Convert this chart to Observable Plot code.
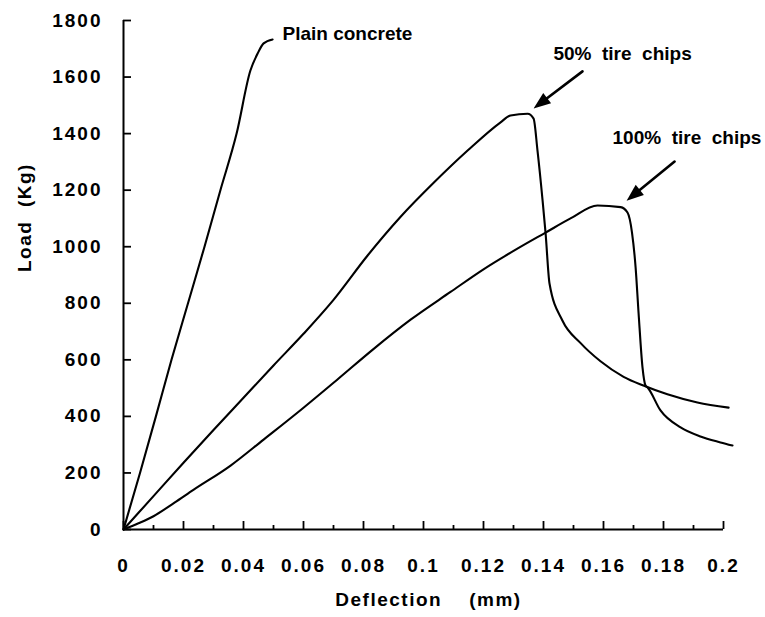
<!DOCTYPE html>
<html>
<head>
<meta charset="utf-8">
<script src="https://cdn.jsdelivr.net/npm/d3@7"></script>
<script src="https://cdn.jsdelivr.net/npm/@observablehq/plot@0.6"></script>
<style>
  html, body { margin: 0; padding: 0; background: #fff; }
  #chart { width: 765px; height: 617px; }
</style>
</head>
<body>
<div id="chart"></div>
<script>
// ---- Data (deflection in mm, load in Kg) ----
const plainX = [0, 0.0055, 0.0108, 0.0160, 0.0215, 0.0270, 0.0323, 0.0377, 0.0423, 0.0447, 0.0467, 0.0497];
const plainY = [0, 200, 400, 600, 800, 1000, 1200, 1400, 1623, 1683, 1719, 1733];

const chips50X = [0, 0.01, 0.02, 0.03, 0.04, 0.05, 0.06, 0.07, 0.0813, 0.0923, 0.1033, 0.1147, 0.1257, 0.129, 0.1347, 0.1367, 0.138, 0.1397, 0.1407, 0.142, 0.1463, 0.1523, 0.159, 0.1667, 0.1733, 0.1813, 0.1913, 0.2017];
const chips50Y = [0, 118, 236, 352, 466, 580, 692, 812, 968, 1105, 1225, 1340, 1440, 1464, 1470, 1453, 1340, 1163, 1047, 870, 739, 660, 595, 540, 509, 478, 449, 431];

const chips100X = [0, 0.005, 0.01, 0.017, 0.0233, 0.0357, 0.0467, 0.0597, 0.0717, 0.0833, 0.0957, 0.109, 0.12, 0.1313, 0.1407, 0.149, 0.158, 0.1657, 0.168, 0.1695, 0.1707, 0.1717, 0.173, 0.174, 0.1747, 0.179, 0.1857, 0.1923, 0.199, 0.203];
const chips100Y = [0, 22, 47, 95, 140, 226, 318, 428, 534, 638, 742, 840, 920, 993, 1050, 1100, 1146, 1140, 1121, 1050, 927, 764, 573, 509, 502, 421, 361, 329, 308, 297];

// ---- Axes ----
const xTickValues = [0, 0.02, 0.04, 0.06, 0.08, 0.1, 0.12, 0.14, 0.16, 0.18, 0.2];
const xTickLabels = ["0", "0.02", "0.04", "0.06", "0.08", "0.1", "0.12", "0.14", "0.16", "0.18", "0.2"];
const xMinorTicks = [0.01, 0.03, 0.05, 0.07, 0.09, 0.11, 0.13, 0.15, 0.17, 0.19];
const yTickValues = [0, 200, 400, 600, 800, 1000, 1200, 1400, 1600, 1800];
const yTickLabels = ["0", "200", "400", "600", "800", "1000", "1200", "1400", "1600", "1800"];
const xTitle = "Deflection    (mm)";
const yTitle = "Load  (Kg)";

// ---- Annotations ----
const annotLabels = ["Plain concrete", "50%  tire  chips", "100%  tire  chips"];
const annotX = [0.053, 0.1433, 0.163];
const annotY = [1754, 1683, 1386];
const arrowX1 = [0.153, 0.1837];
const arrowY1 = [1620, 1301];
const arrowX2 = [0.1367, 0.1677];
const arrowY2 = [1489, 1163];

const series = [
  {xs: plainX, ys: plainY},
  {xs: chips50X, ys: chips50Y},
  {xs: chips100X, ys: chips100Y}
];

const headSymbol = {
  draw(ctx) {
    ctx.moveTo(0, 0);
    ctx.lineTo(-6.5, 17);
    ctx.lineTo(6.5, 17);
    ctx.closePath();
  }
};

function baseMarks() {
  const marks = [];
  marks.push(Plot.ruleX([0], {stroke: "black", strokeWidth: 2}));
  marks.push(Plot.ruleY([0], {stroke: "black", strokeWidth: 2}));
  marks.push(Plot.axisY(yTickValues, {anchor: "left", tickSize: -8, tickPadding: 29, strokeWidth: 1.8, label: null,
    tickFormat: d => yTickLabels[yTickValues.indexOf(d)]}));
  marks.push(Plot.axisX(xTickValues, {anchor: "bottom", tickSize: -8, tickPadding: 37, strokeWidth: 1.8, label: null,
    tickFormat: d => xTickLabels[xTickValues.indexOf(d)]}));
  marks.push(Plot.axisX(xMinorTicks, {anchor: "bottom", tickSize: -4, tickPadding: 0, strokeWidth: 1.8, label: null,
    tickFormat: () => ""}));
  marks.push(Plot.text([xTitle], {frameAnchor: "bottom", dx: 5, dy: 76, text: d => d, fontSize: 19, fontWeight: "bold"}));
  marks.push(Plot.text([yTitle], {frameAnchor: "left", dx: -99, dy: -3, rotate: -90, text: d => d, fontSize: 19, fontWeight: "bold"}));
  for (const s of series) {
    marks.push(Plot.line(d3.range(s.xs.length), {x: i => s.xs[i], y: i => s.ys[i], stroke: "black", strokeWidth: 2.1,
      strokeLinejoin: "round", curve: "monotone-x"}));
  }
  marks.push(Plot.text(d3.range(annotLabels.length), {x: i => annotX[i], y: i => annotY[i], text: i => annotLabels[i],
    textAnchor: "start", fontSize: 19, fontWeight: "bold"}));
  marks.push(Plot.arrow(d3.range(arrowX1.length), {x1: i => arrowX1[i], y1: i => arrowY1[i], x2: i => arrowX2[i], y2: i => arrowY2[i],
    headLength: 0, insetEnd: 9, stroke: "black", strokeWidth: 2.6}));
  return marks;
}

function build(extra) {
  return Plot.plot({
    width: 765,
    height: 617,
    marginLeft: 123,
    marginRight: 42,
    marginTop: 20,
    marginBottom: 88,
    x: {domain: [0, 0.2]},
    y: {domain: [0, 1800]},
    style: {fontFamily: "'Liberation Sans', Arial, sans-serif", fontSize: "19px", fontWeight: "bold", letterSpacing: "2px", color: "black", background: "white"},
    marks: [...baseMarks(), ...extra]
  });
}

const probe = build([]);
const sx = probe.scale("x"), sy = probe.scale("y");
const headAngles = arrowX1.map((_, i) => {
  const ux = sx.apply(arrowX2[i]) - sx.apply(arrowX1[i]);
  const uy = sy.apply(arrowY2[i]) - sy.apply(arrowY1[i]);
  return Math.atan2(ux, -uy) * 180 / Math.PI;
});

const chart = build([
  Plot.dot(d3.range(arrowX2.length), {x: i => arrowX2[i], y: i => arrowY2[i], rotate: i => headAngles[i],
    symbol: headSymbol, fill: "black", stroke: "none"})
]);

d3.select(chart).selectAll("text")
  .filter(function() { return annotLabels.includes(this.textContent); })
  .style("letter-spacing", "0px");
d3.select(chart).selectAll("text")
  .filter(function() { return this.textContent === xTitle || this.textContent === yTitle; })
  .style("letter-spacing", "1.5px");

document.getElementById("chart").appendChild(chart);
</script>
</body>
</html>
